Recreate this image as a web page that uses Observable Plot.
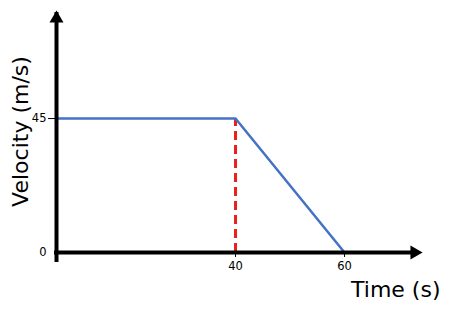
<!DOCTYPE html>
<html>
<head>
<meta charset="utf-8">
<script src="https://cdn.jsdelivr.net/npm/d3@7"></script>
<script src="https://cdn.jsdelivr.net/npm/@observablehq/plot@0.6"></script>
<style>
  html, body { margin: 0; padding: 0; background: #fff; }
</style>
</head>
<body>
<div id="chart"></div>
<script>
// Data
const time = [0, 40, 60];
const velocity = [45, 45, 0];
const markTime = 40;          // dashed marker
const xTicks = [40, 60];
const yTicks = [45];
const yZeroTick = [0];
const xMin = 7.16;            // where the vertical axis sits
const xMax = 74.3;            // axis arrow extent
const yMax = 81.3;            // axis arrow extent

const line = time.map((t, i) => ({t, v: velocity[i]}));

const chart = Plot.plot({
  width: 474,
  height: 318,
  marginLeft: 56,
  marginRight: 52,
  marginTop: 10,
  marginBottom: 66,
  style: {fontFamily: "DejaVu Sans, Verdana, sans-serif", fontSize: "11.5px", background: "#fff"},
  x: {domain: [xMin, xMax]},
  y: {domain: [0, yMax]},
  marks: [
    Plot.axisX({ticks: xTicks, tickSize: 5, tickPadding: 4, label: null, tickFormat: d => String(d)}),
    Plot.axisY({ticks: yTicks, tickSize: 8, tickPadding: 2, label: null, tickFormat: d => String(d)}),
    Plot.axisY({ticks: yZeroTick, tickSize: 0, tickPadding: 10, label: null, tickFormat: d => String(d)}),
    // dashed marker
    Plot.ruleX([markTime], {y1: 0, y2: velocity[1], stroke: "#e8201f", strokeWidth: 3, strokeDasharray: "9,5"}),
    // velocity line
    Plot.line(line, {x: "t", y: "v", stroke: "#4472C4", strokeWidth: 2.5, clip: "frame"}),
    // axes with arrows
    Plot.ruleY([0], {x1: xMin, x2: xMax, stroke: "#000", strokeWidth: 4, insetRight: 10, insetLeft: -2}),
    Plot.ruleX([xMin], {y1: 0, y2: yMax, stroke: "#000", strokeWidth: 4, insetTop: 10, insetBottom: -2}),
    Plot.dot([0], {x: xMin, y: yMax, symbol: "triangle", r: 5.2, fill: "#000", stroke: null, dy: 8}),
    Plot.dot([0], {x: xMax, y: 0, symbol: "triangle", r: 5.2, fill: "#000", stroke: null, dx: -8, rotate: 90}),
    // axis titles
    Plot.text(["Velocity (m/s)"], {frameAnchor: "left", text: d => d, rotate: -90, dx: -36, fontSize: 22, textAnchor: "middle", fill: "#000"}),
    Plot.text(["Time (s)"], {frameAnchor: "bottom-right", text: d => d, dx: 18, dy: 44, fontSize: 22, textAnchor: "end", fill: "#000"})
  ]
});
document.getElementById("chart").appendChild(chart);
</script>
</body>
</html>
